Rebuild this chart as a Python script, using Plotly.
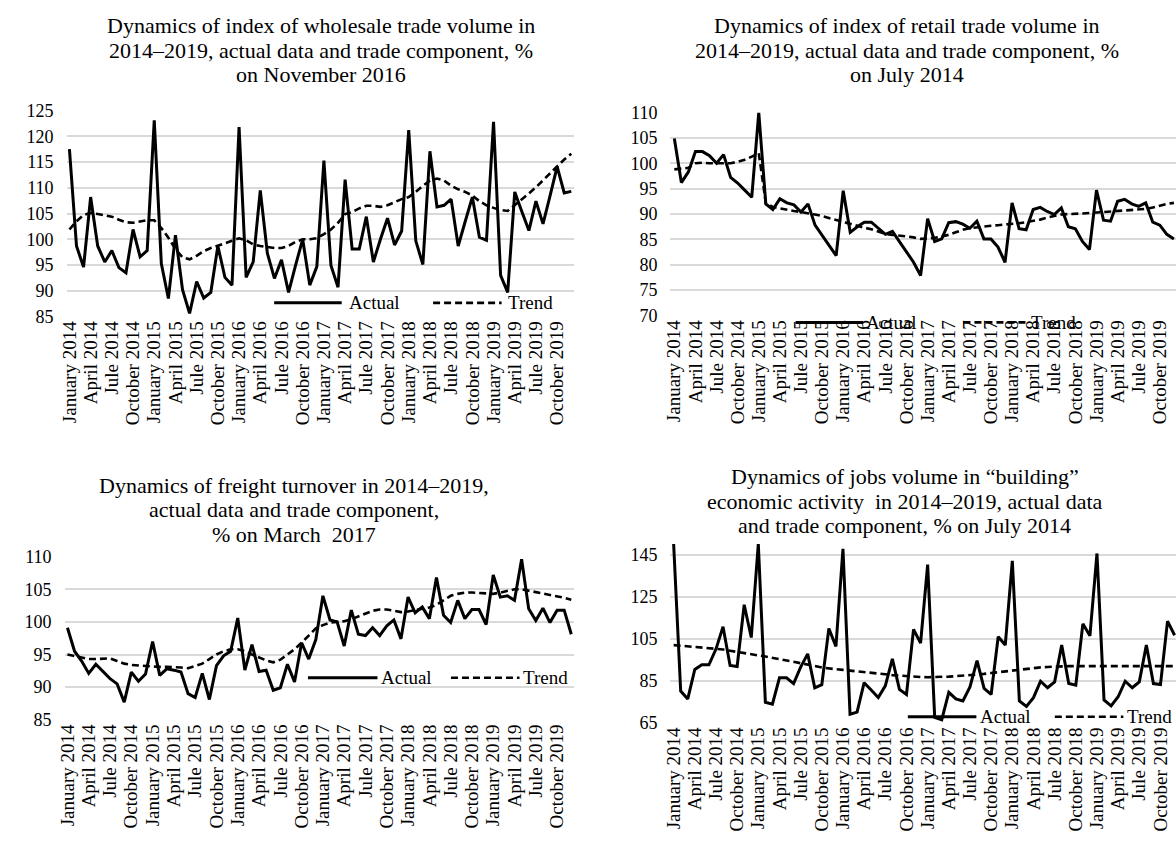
import plotly.graph_objects as go

W, H = 1176, 841
FONT = "Liberation Serif, Times New Roman, serif"

# ---------------- data ----------------
month_names = ["January", "February", "March", "April", "May", "June",
               "Jule", "August", "September", "October", "November", "December"]
years = [2014, 2015, 2016, 2017, 2018, 2019]
months = [f"{m} {y}" for y in years for m in month_names]

tick_labels = [
    "January 2014", "April 2014", "Jule 2014", "October 2014",
    "January 2015", "April 2015", "Jule 2015", "October 2015",
    "January 2016", "April 2016", "Jule 2016", "October 2016",
    "January 2017", "April 2017", "Jule 2017", "October 2017",
    "January 2018", "April 2018", "Jule 2018", "October 2018",
    "January 2019", "April 2019", "Jule 2019", "October 2019",
]

wholesale_actual = [
    117.5, 98.7, 94.6, 108.2, 98.7, 95.6, 97.8, 94.5, 93.5, 101.9, 96.6, 97.8,
    123.1, 95.3, 88.5, 100.8, 90.2, 85.6, 91.8, 88.6, 89.7, 98.7, 92.6, 91.1,
    121.8, 92.6, 95.6, 109.5, 97.3, 92.4, 96.0, 89.7, 95.0, 100.0, 91.1, 94.7,
    115.3, 94.9, 90.7, 111.6, 98.1, 98.1, 104.4, 95.6, 100.0, 104.1, 98.9, 101.6,
    121.2, 99.7, 95.1, 117.1, 106.3, 106.6, 107.8, 98.7, 103.5, 108.2, 100.4, 99.8,
    122.8, 93.0, 89.7, 109.2, 105.4, 101.7, 107.4, 103.0, 108.5, 114.1, 109.0, 109.3,
]
wholesale_trend = [
    101.9, 103.5, 104.7, 105.1, 104.9, 104.6, 104.4, 103.8, 103.3, 103.2, 103.4, 103.7,
    103.7, 102.2, 100.3, 98.1, 96.5, 96.1, 96.8, 97.7, 98.3, 98.7, 99.2, 99.7,
    100.2, 99.8, 99.0, 98.7, 98.5, 98.3, 98.3, 98.7, 99.5, 100.0, 100.0, 100.2,
    101.0, 101.9, 103.2, 104.9, 105.3, 106.0, 106.5, 106.5, 106.3, 106.6, 107.2, 107.8,
    108.2, 109.2, 110.4, 111.4, 111.8, 111.4, 110.4, 109.7, 109.2, 108.5, 107.4, 106.6,
    106.1, 105.7, 105.5, 106.6, 107.8, 108.9, 110.1, 111.4, 112.8, 114.2, 115.5, 116.6,
]

retail_actual = [
    104.9, 96.2, 98.3, 102.3, 102.3, 101.5, 100.0, 101.7, 97.2, 96.1, 94.7, 93.3,
    110.0, 92.0, 90.9, 93.0, 92.2, 91.8, 90.4, 92.0, 87.8, 85.8, 83.9, 81.8,
    94.6, 86.4, 87.5, 88.4, 88.4, 87.2, 86.0, 86.6, 84.6, 82.7, 80.5, 77.9,
    89.1, 84.6, 85.1, 88.3, 88.5, 88.0, 87.2, 88.6, 85.1, 85.1, 83.5, 80.5,
    92.2, 87.1, 86.9, 90.9, 91.3, 90.5, 89.9, 91.2, 87.5, 87.1, 84.6, 83.0,
    94.7, 88.8, 88.6, 92.5, 92.9, 92.0, 91.5, 92.2, 88.4, 87.8, 86.0, 85.1,
]
retail_trend = [
    98.8, 98.9, 99.1, 100.0, 100.1, 100.0, 100.0, 100.0, 100.0, 100.3, 100.7, 101.3,
    102.0, 92.2, 91.4, 91.1, 90.8, 90.6, 90.4, 90.2, 89.9, 89.6, 89.2, 88.8,
    88.5, 88.0, 87.7, 87.3, 87.0, 86.5, 86.1, 85.9, 85.8, 85.6, 85.4, 85.1,
    85.2, 85.3, 85.6, 85.9, 86.4, 86.9, 87.2, 87.4, 87.5, 87.7, 87.8, 87.9,
    88.0, 88.2, 88.4, 88.6, 88.9, 89.3, 89.6, 89.9, 90.0, 90.0, 90.1, 90.2,
    90.3, 90.4, 90.5, 90.6, 90.6, 90.7, 90.8, 91.0, 91.3, 91.7, 92.0, 92.2,
]

freight_actual = [
    99.1, 95.5, 94.0, 92.1, 93.5, 92.4, 91.3, 90.5, 87.7, 92.3, 90.9, 92.0,
    97.0, 91.8, 92.8, 92.6, 92.3, 89.0, 88.4, 92.1, 88.1, 93.3, 94.8, 95.5,
    100.6, 92.6, 96.5, 92.4, 92.6, 89.5, 89.9, 93.5, 90.8, 96.8, 94.3, 97.3,
    104.0, 100.3, 100.0, 96.3, 101.8, 98.1, 97.9, 99.1, 97.9, 99.4, 100.3, 97.4,
    103.8, 101.4, 102.3, 100.5, 106.8, 101.0, 99.9, 103.3, 100.5, 101.9, 101.9, 99.6,
    107.2, 103.8, 104.0, 103.3, 109.6, 102.0, 100.2, 102.1, 99.9, 101.8, 101.8, 98.1,
]
freight_trend = [
    95.0, 94.8, 94.5, 94.3, 94.3, 94.4, 94.4, 94.0, 93.6, 93.4, 93.3, 93.2,
    93.1, 93.1, 93.1, 93.1, 93.0, 92.9, 93.2, 93.6, 94.3, 95.0, 95.5, 95.8,
    95.8, 95.5, 95.0, 94.5, 94.1, 93.8, 94.2, 95.0, 95.8, 96.8, 97.9, 99.0,
    99.5, 99.9, 100.0, 100.1, 100.4, 100.8, 101.3, 101.7, 101.9, 101.9, 101.7, 101.5,
    101.6, 101.8, 102.0, 102.2, 102.6, 103.3, 104.0, 104.3, 104.5, 104.5, 104.4, 104.3,
    104.3, 104.5, 104.8, 105.0, 105.0, 104.8, 104.6, 104.4, 104.2, 104.0, 103.7, 103.4,
]

building_actual = [
    150.0, 80.0, 76.3, 90.3, 92.5, 92.5, 100.0, 110.6, 92.2, 91.7, 121.1, 105.5,
    150.0, 74.7, 73.8, 86.3, 86.3, 83.6, 91.4, 97.7, 81.6, 83.1, 109.8, 101.3,
    147.7, 69.0, 70.0, 84.0, 80.5, 76.9, 82.5, 95.3, 80.8, 78.4, 109.4, 102.8,
    140.2, 67.5, 66.4, 79.4, 76.3, 75.3, 82.0, 94.5, 81.3, 78.4, 105.9, 101.9,
    142.0, 75.3, 72.7, 76.9, 84.7, 81.6, 84.4, 101.9, 83.6, 82.8, 112.0, 106.3,
    145.5, 75.8, 73.0, 77.3, 84.7, 81.6, 84.4, 101.9, 83.6, 83.1, 113.3, 106.6,
]
building_trend = [
    101.9, 101.6, 101.3, 101.0, 100.7, 100.5, 100.3, 99.8, 99.2, 98.6, 97.9, 97.4,
    97.0, 96.5, 95.9, 95.2, 94.7, 94.1, 93.5, 92.8, 92.0, 91.2, 90.7, 90.4,
    90.1, 89.8, 89.5, 89.2, 88.8, 88.4, 88.0, 87.6, 87.3, 87.0, 86.8, 86.7,
    86.6, 86.6, 86.7, 86.9, 87.1, 87.3, 87.5, 87.8, 88.2, 88.6, 89.0, 89.4,
    89.8, 90.3, 90.7, 91.0, 91.3, 91.5, 91.7, 91.8, 91.9, 91.9, 91.9, 91.9,
    91.9, 91.9, 91.9, 91.9, 91.9, 91.9, 91.9, 91.9, 91.9, 91.9, 91.9, 91.9,
]

titles = [
    ["Dynamics of index of wholesale trade volume in",
     "2014–2019, actual data and trade component, %",
     "on November 2016"],
    ["Dynamics of index of retail trade volume in",
     "2014–2019, actual data and trade component, %",
     "on July 2014"],
    ["Dynamics of freight turnover in 2014–2019,",
     "actual data and trade component,",
     "% on March \u00a02017"],
    ["Dynamics of jobs volume in “building”",
     "economic activity \u00a0in 2014–2019, actual data",
     "and trade component, % on July 2014"],
]

# ---------------- layout geometry (pixels) ----------------
def px_x(x):
    return x / W

def px_y(y):
    return 1 - y / H

panels = [
    dict(act=wholesale_actual, tr=wholesale_trend, x0=59, x1=570, yt=103, yb=314,
         yr=[85, 125], dt=5, xr=[-0.4, 71.4], tcx=315, tly=[16, 41, 66],
         leg=dict(y=300, l0=268, l1=336, t1=341, d0=428, d1=497, t2=501)),
    dict(act=retail_actual, tr=retail_trend, x0=667, x1=1176, yt=105, yb=313,
         yr=[70, 110], dt=5, xr=[-0.55, 71.3], tcx=905, tly=[16, 41, 66],
         leg=dict(y=320, l0=793, l1=861, t1=862, d0=962, d1=1026, t2=1028)),
    dict(act=freight_actual, tr=freight_trend, x0=57, x1=570, yt=560, yb=727,
         yr=[85, 110], dt=5, xr=[-0.4, 71.4], tcx=288, tly=[487, 512, 537],
         leg=dict(y=684, l0=302, l1=372, t1=374, d0=446, d1=515, t2=517)),
    dict(act=building_actual, tr=building_trend, x0=667, x1=1176, yt=547, yb=730,
         yr=[65, 150], dt=20, xr=[-0.45, 71.2], tcx=903, tly=[478, 503, 528],
         leg=dict(y=724, l0=906, l1=975, t1=977, d0=1054, d1=1123, t2=1125)),
]

fig = go.Figure()
annotations = []
shapes = []
layout_axes = {}

for k, p in enumerate(panels, start=1):
    xa = "x" if k == 1 else f"x{k}"
    ya = "y" if k == 1 else f"y{k}"
    fig.add_trace(go.Scatter(x=months, y=p["act"], mode="lines", name="Actual",
                             line=dict(color="black", width=3),
                             xaxis=xa, yaxis=ya, showlegend=False))
    fig.add_trace(go.Scatter(x=months, y=p["tr"], mode="lines", name="Trend",
                             line=dict(color="black", width=2.6, dash="7px,4px"),
                             xaxis=xa, yaxis=ya, showlegend=False))
    xkey = "xaxis" if k == 1 else f"xaxis{k}"
    ykey = "yaxis" if k == 1 else f"yaxis{k}"
    layout_axes[xkey] = dict(
        domain=[px_x(p["x0"]), px_x(p["x1"])], anchor=ya, type="category",
        categoryorder="array", categoryarray=months,
        range=p["xr"], tickmode="array", tickvals=tick_labels, ticktext=tick_labels,
        tickangle=-90, tickfont=dict(family=FONT, size=19, color="black"),
        showgrid=False, showline=False, zeroline=False, ticks="",
        fixedrange=True,
    )
    layout_axes[ykey] = dict(
        domain=[px_y(p["yb"]), px_y(p["yt"])], anchor=xa,
        range=p["yr"], tick0=p["yr"][0], dtick=p["dt"],
        showgrid=True, gridcolor="#d9d9d9", gridwidth=1.5,
        zeroline=False, showline=False, ticks="",
        tickfont=dict(family=FONT, size=18, color="black"),
        ticklabelstandoff=12, fixedrange=True,
    )
    for line_text, ly_px in zip(titles[k - 1], p["tly"]):
        annotations.append(dict(
            text=line_text, xref="paper", yref="paper",
            x=px_x(p["tcx"]), y=px_y(ly_px), xanchor="center", yanchor="middle",
            showarrow=False, align="center",
            font=dict(family=FONT, size=22, color="black"),
        ))
    L = p["leg"]
    ly = px_y(L["y"])
    shapes.append(dict(type="line", xref="paper", yref="paper",
                       x0=px_x(L["l0"]), x1=px_x(L["l1"]), y0=ly, y1=ly,
                       line=dict(color="black", width=3)))
    shapes.append(dict(type="line", xref="paper", yref="paper",
                       x0=px_x(L["d0"]), x1=px_x(L["d1"]), y0=ly, y1=ly,
                       line=dict(color="black", width=2.6, dash="7px,4px")))
    for txt, tx in (("Actual", L["t1"]), ("Trend", L["t2"])):
        annotations.append(dict(
            text=txt, xref="paper", yref="paper", x=px_x(tx), y=ly,
            xanchor="left", yanchor="middle", showarrow=False,
            font=dict(family=FONT, size=19, color="black"),
        ))

fig.update_layout(
    width=W, height=H,
    margin=dict(l=0, r=0, t=0, b=0),
    paper_bgcolor="white", plot_bgcolor="white",
    showlegend=False,
    annotations=annotations, shapes=shapes,
    font=dict(family=FONT, color="black"),
    **layout_axes,
)

fig.write_html(
    "out.html",
    config={"displayModeBar": False, "responsive": False},
    post_script="document.body.style.margin='0px';"
                "document.body.style.overflow='hidden';"
                "document.documentElement.style.overflow='hidden';",
)
